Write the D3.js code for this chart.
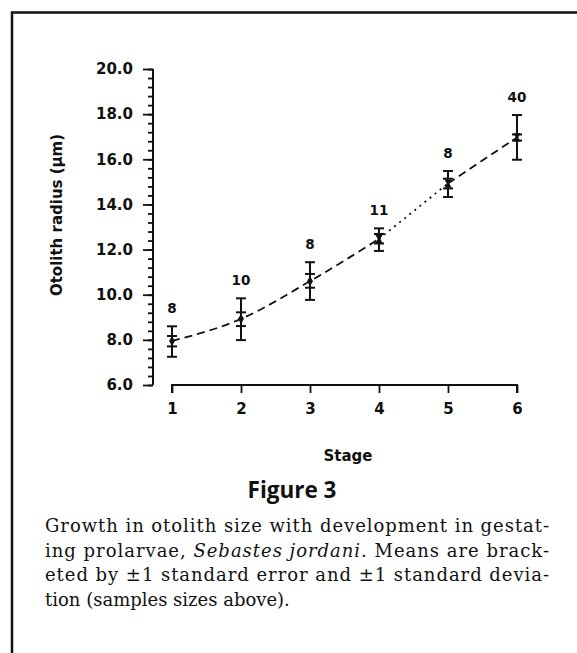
<!DOCTYPE html>
<html><head><meta charset="utf-8">
<script src="https://cdn.jsdelivr.net/npm/d3@7"></script>
<style>body{margin:0;background:#fff}svg{display:block}</style>
</head><body>
<svg id="c" width="577" height="653"></svg>
<script>
const stages = [1, 2, 3, 4, 5, 6];
const means = [7.95, 8.93, 10.6, 12.47, 14.93, 16.97];
const seLow = [7.71, 8.61, 10.31, 12.27, 14.71, 16.83];
const seHigh = [8.17, 9.22, 10.92, 12.69, 15.14, 17.1];
const sdLow = [7.25, 7.99, 9.77, 11.94, 14.33, 15.98];
const sdHigh = [8.6, 9.84, 11.44, 12.94, 15.48, 17.96];
const sampleSizes = ["8", "10", "8", "11", "8", "40"];
const yTicks = [6, 8, 10, 12, 14, 16, 18, 20];
const captionLines = [
  "Growth in otolith size with development in gestat-",
  "ing prolarvae, |Sebastes jordani|. Means are brack-",
  "eted by ±1 standard error and ±1 standard devia-",
  "tion (samples sizes above)."
];

const svg = d3.select("#c");
const x = d3.scaleLinear().domain([1, 6]).range([172, 517]);
const y = d3.scaleLinear().domain([6, 20]).range([385, 69]);
const sans = "DejaVu Sans";

// frame
svg.append("path").attr("d", "M12,653 V12.5 H577").attr("fill", "none")
  .attr("stroke", "#111").attr("stroke-width", 2.5);

// y axis
const yMinor = d3.range(6, 20.001, 0.4).map(v => +v.toFixed(2));
const yAx = svg.append("g").attr("transform", "translate(153,0)");
yAx.call(d3.axisLeft(y).tickValues(yMinor).tickSize(5).tickFormat(""))
yAx.select(".domain").remove();
yAx.append("line").attr("x1", 0).attr("x2", 0).attr("y1", y(20)).attr("y2", y(6))
  .attr("stroke", "#111").attr("stroke-width", 2);
const yMaj = svg.append("g").attr("transform", "translate(153,0)")
  .call(d3.axisLeft(y).tickValues(yTicks).tickSize(10).tickPadding(10).tickFormat(d3.format(".1f")));
yMaj.select(".domain").remove();
svg.selectAll(".tick line").attr("stroke", "#111").attr("stroke-width", 1.8);
yMaj.selectAll("text").attr("font-family", sans).attr("font-weight", "bold")
  .attr("font-size", 15).attr("fill", "#111");

// x axis
const xAx = svg.append("g").attr("transform", "translate(0,385)")
  .call(d3.axisBottom(x).tickValues(stages).tickSize(8).tickPadding(10).tickFormat(d3.format("d")));
xAx.select(".domain").attr("d", `M${x(1)},8V0H${x(6)}V8`).attr("stroke", "#111").attr("stroke-width", 2);
xAx.selectAll(".tick line").attr("stroke", "#111").attr("stroke-width", 1.8);
xAx.selectAll("text").attr("font-family", sans).attr("font-weight", "bold")
  .attr("font-size", 15).attr("fill", "#111");

// axis titles
svg.append("text").attr("x", 348).attr("y", 461).attr("text-anchor", "middle")
  .attr("font-family", sans).attr("font-weight", "bold").attr("font-size", 15)
  .attr("fill", "#111").text("Stage");
svg.append("text").attr("transform", "translate(62,215) rotate(-90)").attr("text-anchor", "middle")
  .attr("font-family", sans).attr("font-weight", "bold").attr("font-size", 15)
  .attr("fill", "#111").text("Otolith radius (µm)");

// connecting line
const data = stages.map((s, i) => ({ s, m: means[i] }));
const line = d3.line().x(d => x(d.s)).y(d => y(d.m)).curve(d3.curveMonotoneX);
const segs = [
  { pts: data.slice(0, 4), dash: "8,5" },
  { pts: data.slice(3, 5), dash: "2,4.5" },
  { pts: data.slice(4, 6), dash: "8,5" }
];
svg.selectAll(".seg").data(segs).join("path").attr("class", "seg")
  .attr("d", d => line(d.pts)).attr("fill", "none").attr("stroke", "#111")
  .attr("stroke-width", 1.8).attr("stroke-dasharray", d => d.dash);

// error bars
const eb = svg.selectAll(".eb").data(stages).join("g").attr("class", "eb");
eb.append("line").attr("x1", d => x(d)).attr("x2", d => x(d))
  .attr("y1", (d, i) => y(sdLow[i])).attr("y2", (d, i) => y(sdHigh[i]))
  .attr("stroke", "#111").attr("stroke-width", 2);
[sdLow, sdHigh, seLow, seHigh].forEach(arr => {
  eb.append("line").attr("x1", d => x(d) - 5).attr("x2", d => x(d) + 5)
    .attr("y1", (d, i) => y(arr[i])).attr("y2", (d, i) => y(arr[i]))
    .attr("stroke", "#111").attr("stroke-width", 2);
});

// markers
const diamond = d3.symbol().type(d3.symbolDiamond).size(30);
const tri = d3.symbol().type(d3.symbolTriangle).size(22);
svg.selectAll(".mk").data(data).join("g").attr("class", "mk")
  .attr("transform", d => `translate(${x(d.s)},${y(d.m)})`)
  .each(function (d, i) {
    const g = d3.select(this);
    if (i < 3) {
      g.append("path").attr("d", diamond()).attr("fill", "#111");
    } else {
      g.append("path").attr("d", tri()).attr("transform", "translate(0,-2) rotate(180)").attr("fill", "#111");
      g.append("path").attr("d", tri()).attr("transform", "translate(0,2)").attr("fill", "#111");
    }
  });

// sample sizes
svg.selectAll(".n").data(stages).join("text").attr("class", "n")
  .attr("x", d => x(d)).attr("y", (d, i) => y(sdHigh[i]) - 13)
  .attr("text-anchor", "middle").attr("font-family", sans).attr("font-weight", "bold")
  .attr("font-size", 13.5).attr("fill", "#111").text((d, i) => sampleSizes[i]);

// figure title
svg.append("text").attr("x", 292).attr("y", 498).attr("text-anchor", "middle")
  .attr("font-family", "Open Sans").attr("font-weight", "bold").attr("font-size", 22.5)
  .attr("fill", "#111").text("Figure 3");

// caption
const cap = svg.append("g").attr("font-family", "DejaVu Serif").attr("font-size", 18).attr("fill", "#111");
captionLines.forEach((ln, i) => {
  const t = cap.append("text").attr("x", 45).attr("y", 532 + i * 24.6);
  if (i < 3) t.attr("textLength", 504).attr("lengthAdjust", "spacing");
  ln.split("|").forEach((part, j) => {
    t.append("tspan").attr("font-style", j % 2 ? "italic" : "normal").text(part);
  });
});
</script>
</body></html>
